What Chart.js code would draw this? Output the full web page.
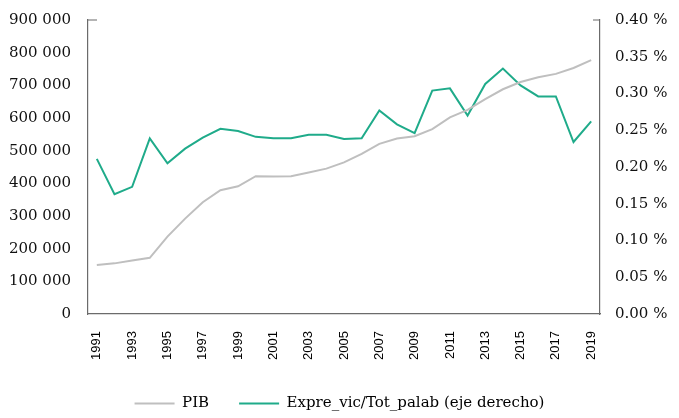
<!DOCTYPE html>
<html>
<head>
<meta charset="utf-8">
<script src="https://cdn.jsdelivr.net/npm/chart.js@4/dist/chart.umd.min.js"></script>
<style>
html,body{margin:0;padding:0;background:#fff;}
#wrap{width:679px;height:418px;position:relative;}
</style>
</head>
<body>
<div id="wrap"><canvas id="c" width="679" height="418"></canvas></div>
<script>
const years = ['1991','1992','1993','1994','1995','1996','1997','1998','1999','2000','2001','2002','2003','2004','2005','2006','2007','2008','2009','2010','2011','2012','2013','2014','2015','2016','2017','2018','2019'];
const pib = [150000,155000,164000,172000,237000,292000,342000,379000,391000,422000,421000,422000,433000,445000,464000,490000,521000,537000,544000,566000,602000,625000,658000,688000,710000,725000,735000,753000,777000];
const exprePct = [0.211,0.163,0.173,0.239,0.205,0.225,0.240,0.252,0.249,0.241,0.239,0.239,0.244,0.244,0.238,0.239,0.277,0.258,0.246,0.304,0.307,0.270,0.313,0.334,0.311,0.296,0.296,0.234,0.262];
const leftTicks = {min:0, max:900000, step:100000};
const rightTicks = {min:0, max:0.40, step:0.05};
const labelPIB = 'PIB';
const labelExpre = 'Expre_vic/Tot_palab (eje derecho)';

const GRAY = '#bfbfbf';
const GREEN = '#1fab8a';
const AXIS = '#6b6b6b';

const cornerTicks = {
  id:'cornerTicks',
  afterDraw(chart){
    const a = chart.chartArea, ctx = chart.ctx;
    ctx.save();
    ctx.strokeStyle = AXIS; ctx.lineWidth = 1.2;
    ctx.beginPath();
    ctx.moveTo(a.left, a.top); ctx.lineTo(a.left+9, a.top);
    ctx.moveTo(a.right-7, a.top); ctx.lineTo(a.right, a.top);
    ctx.stroke();
    ctx.restore();
  }
};
const legendFit = {
  id:'legendFit',
  afterInit(chart){
    const lg = chart.legend;
    const orig = lg.fit;
    lg.fit = function(){ orig.call(this); this.height = 52; };
  }
};

function fmtThousands(v){
  return String(Math.round(v)).replace(/\B(?=(\d{3})+(?!\d))/g,' ');
}

new Chart(document.getElementById('c'), {
  type:'line',
  data:{
    labels: years,
    datasets:[
      {label:labelPIB, data:pib, yAxisID:'y', borderColor:GRAY, backgroundColor:GRAY, borderWidth:2, pointRadius:0, tension:0},
      {label:labelExpre, data:exprePct, yAxisID:'y1', borderColor:GREEN, backgroundColor:GREEN, borderWidth:2, pointRadius:0, tension:0}
    ]
  },
  options:{
    responsive:false,
    animation:false,
    devicePixelRatio:1,
    layout:{padding:{top:20,left:0,right:0,bottom:0}},
    plugins:{
      tooltip:{enabled:false},
      legend:{
        position:'bottom',
        labels:{
          boxWidth:40, boxHeight:2, padding:30,
          color:'#111',
          font:{family:'DejaVu Serif', size:15},
          generateLabels(chart){
            return chart.data.datasets.map((d,i)=>({text:d.label, fillStyle:d.borderColor, strokeStyle:d.borderColor, lineWidth:0, datasetIndex:i, hidden:false}));
          }
        }
      }
    },
    scales:{
      x:{
        type:'category',
        offset:true,
        grid:{display:false, drawTicks:false},
        border:{display:true, color:AXIS, width:1.2},
        ticks:{
          autoSkip:false, maxRotation:90, minRotation:90, padding:17,
          color:'#000',
          font:{family:'Liberation Sans', size:13},
          callback(v,i){ return i%2===0 ? years[i] : ''; }
        },
        afterFit(s){ s.height = 52; }
      },
      y:{
        position:'left',
        min:leftTicks.min, max:leftTicks.max,
        grid:{display:false, drawTicks:false},
        border:{display:true, color:AXIS, width:1.2},
        ticks:{
          stepSize:leftTicks.step, padding:17,
          color:'#111',
          font:{family:'DejaVu Serif', size:15},
          callback(v){ return fmtThousands(v); }
        },
        afterFit(s){ s.width = 88; s.paddingTop = 9; s.paddingBottom = 9; }
      },
      y1:{
        position:'right',
        min:rightTicks.min, max:rightTicks.max,
        grid:{display:false, drawTicks:false},
        border:{display:true, color:AXIS, width:1.2},
        ticks:{
          stepSize:rightTicks.step, padding:15,
          color:'#111',
          font:{family:'DejaVu Serif', size:15},
          callback(v){ return v.toFixed(2)+' %'; }
        },
        afterFit(s){ s.width = 79; s.paddingTop = 9; s.paddingBottom = 9; }
      }
    }
  },
  plugins:[cornerTicks, legendFit]
});
</script>
</body>
</html>
